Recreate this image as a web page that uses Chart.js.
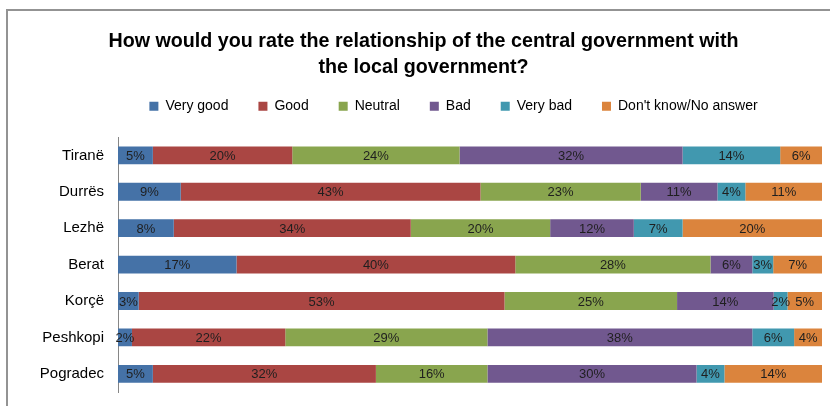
<!DOCTYPE html>
<html>
<head>
<meta charset="utf-8">
<script src="https://cdn.jsdelivr.net/npm/chart.js@4.4.0/dist/chart.umd.min.js"></script>
<style>
    html, body { margin: 0; padding: 0; background: #fff; }
    #frame { position: absolute; left: 6px; top: 9px; width: 900px; height: 460px; border: 2px solid #939393; }
    #wrap { position: absolute; left: 0; top: 0; width: 830px; height: 406px; }
    canvas { display: block; }
</style>
</head>
<body>
<div id="frame"></div>
<div id="wrap"><canvas id="rateChart" width="830" height="406"></canvas></div>
<script>
    var cities = ['Tiranë', 'Durrës', 'Lezhë', 'Berat', 'Korçë', 'Peshkopi', 'Pogradec'];
    var answers = ['Very good', 'Good', 'Neutral', 'Bad', 'Very bad', "Don't know/No answer"];

    var veryGood = [5, 9, 8, 17, 3, 2, 5];
    var good     = [20, 43, 34, 40, 53, 22, 32];
    var neutral  = [24, 23, 20, 28, 25, 29, 16];
    var bad      = [32, 11, 12, 6, 14, 38, 30];
    var veryBad  = [14, 4, 7, 3, 2, 6, 4];
    var noAnswer = [6, 11, 20, 7, 5, 4, 14];

    var answerColors = ['#4572A7', '#AA4643', '#89A54E', '#71588F', '#4198AF', '#DB843D'];

    var series = [veryGood, good, neutral, bad, veryBad, noAnswer];

    // each bar is drawn as 100%, rounded labels don't always add up
    var totals = cities.map(function (c, i) {
        return series.reduce(function (s, arr) { return s + arr[i]; }, 0);
    });

    var datasets = series.map(function (arr, k) {
        return {
            label: answers[k],
            data: arr.map(function (v, i) { return v / totals[i] * 100; }),
            raw: arr,
            backgroundColor: answerColors[k],
            borderWidth: 0,
            barPercentage: 0.49,
            categoryPercentage: 1
        };
    });

    var barLabels = {
        id: 'barLabels',
        afterDatasetsDraw: function (chart) {
            var ctx = chart.ctx;
            ctx.save();
            ctx.font = '13px "Liberation Sans", Arial, sans-serif';
            ctx.fillStyle = '#1f1f1f';
            ctx.textAlign = 'center';
            ctx.textBaseline = 'middle';
            chart.data.datasets.forEach(function (ds, k) {
                chart.getDatasetMeta(k).data.forEach(function (bar, i) {
                    ctx.fillText(ds.raw[i] + '%', (bar.x + bar.base) / 2, bar.y + 1);
                });
            });
            ctx.restore();
        }
    };

    // fixed legend height, and title/legend nudged like the original
    var legendSpace = {
        id: 'legendSpace',
        beforeInit: function (chart) {
            var fit = chart.legend.fit;
            chart.legend.fit = function () {
                fit.bind(chart.legend)();
                this.height = 66;
            };
        },
        afterLayout: function (chart) {
            chart.legend.left += 40;
            chart.legend.right += 40;
            chart.legend.top -= 2;
            chart.legend.bottom -= 2;
            chart.titleBlock.left += 10;
            chart.titleBlock.right += 10;
        }
    };

    var ctxRate = document.getElementById('rateChart').getContext('2d');
    new Chart(ctxRate, {
        type: 'bar',
        data: { labels: cities, datasets: datasets },
        plugins: [barLabels, legendSpace],
        options: {
            indexAxis: 'y',
            responsive: false,
            animation: false,
            layout: { padding: { left: 5, right: 8, top: 0, bottom: 14 } },
            plugins: {
                title: {
                    display: true,
                    text: ['How would you rate the relationship of the central government with', 'the local government?'],
                    color: '#000',
                    font: { family: '"Liberation Sans", Arial, sans-serif', size: 19.7, weight: 'bold', lineHeight: 1.35 },
                    padding: { top: 28, bottom: -10 }
                },
                legend: {
                    position: 'top',
                    labels: {
                        boxWidth: 9,
                        boxHeight: 9,
                        padding: 30,
                        color: '#000',
                        font: { family: '"Liberation Sans", Arial, sans-serif', size: 14 }
                    }
                },
                tooltip: { enabled: false }
            },
            scales: {
                x: { stacked: true, min: 0, max: 100, display: false },
                y: {
                    stacked: true,
                    grid: { display: false, drawTicks: false },
                    border: { display: true, color: '#868686' },
                    ticks: {
                        color: '#000',
                        padding: 14,
                        font: { family: '"Liberation Sans", Arial, sans-serif', size: 15 }
                    },
                    afterFit: function (scale) {
                        scale.width = 113;
                        scale.paddingTop = 0;
                        scale.paddingBottom = 0;
                    }
                }
            }
        }
    });
</script>
</body>
</html>
